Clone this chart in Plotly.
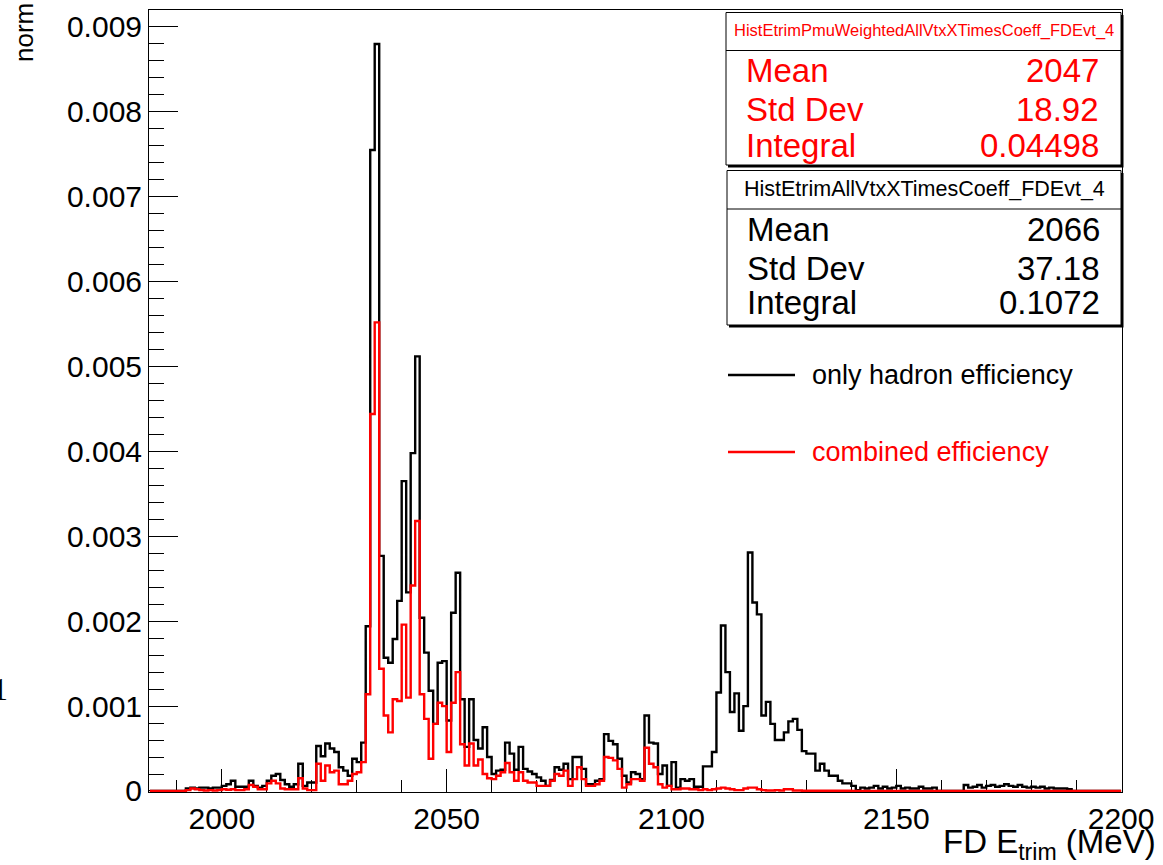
import numpy as np
import plotly.graph_objects as go

# ---------------- data (bin contents, in units of 1e-4) ----------------
bin_low = 1984.0      # MeV, left edge of first bin
bin_width = 1.0       # MeV

# HistEtrimAllVtxXTimesCoeff_FDEvt_4  ("only hadron efficiency")
hadron_only_x1e4 = [
    0, 0, 0, 0, 0, 0,                                              # 1984-1989
    0, 0, 0.3, 0.4, 0.3, 0.4, 0.4, 0.3, 0.4, 0.4,                   # 1990-1999
    0.6, 0.8, 1.2, 0.5, 0.5, 0.5, 1.2, 0.6, 0.4, 0.6,               # 2000-2009
    1.2, 1.8, 2.0, 1.3, 0.8, 0.5, 0.8, 3.2, 0.6, 1.0,               # 2010-2019
    1.0, 5.3, 4.1, 5.6, 5.0, 4.6, 2.8, 2.4, 1.8, 3.8,               # 2020-2029
    3.4, 5.7, 19.4, 75.5, 88.0, 27.7, 15.7, 15.1, 17.9, 22.4,       # 2030-2039
    36.5, 23.4, 39.8, 51.2, 20.4, 16.3, 11.8, 7.9, 15.1, 15.3,      # 2040-2049
    8.3, 21.0, 25.7, 10.8, 5.2, 10.8, 6.0, 5.0, 7.5, 4.0,           # 2050-2059
    2.0, 2.4, 2.5, 5.7, 4.4, 2.5, 5.2, 2.6, 2.3, 2.0,               # 2060-2069
    1.6, 1.2, 0.6, 1.3, 2.8, 2.5, 3.2, 1.4, 4.0, 4.0,               # 2070-2079
    2.6, 0.8, 0.8, 1.2, 1.4, 6.7, 5.9, 5.5, 3.8, 1.8,               # 2080-2089
    1.0, 2.2, 2.0, 1.4, 8.9, 5.7, 5.6, 2.0, 3.0, 0.6,               # 2090-2099
    3.4, 0.4, 1.4, 1.2, 1.4, 0.5, 0.5, 2.9, 2.9, 4.6,               # 2100-2109
    11.6, 19.5, 14.0, 9.3, 11.5, 7.1, 10.0, 28.1, 22.2, 20.8,       # 2110-2119
    8.9, 10.5, 7.9, 6.0, 6.0, 6.9, 8.2, 8.5, 7.2, 4.7,              # 2120-2129
    4.4, 4.4, 2.4, 3.2, 2.4, 1.8, 1.8, 1.2, 0.9, 0.9,               # 2130-2139
    0.6, 0.1, 0.4, 0.3, 0.4, 0.6, 0.3, 0.5, 0.3, 0.4,               # 2140-2149
    0.6, 0.3, 0.4, 0.3, 0.3, 0.5, 0.3, 0.3, 0.4, 0,                 # 2150-2159
    0, 0, 0, 0, 0, 0.7, 0.4, 0.5, 0.7, 0.4,                         # 2160-2169
    0.6, 0.7, 0.5, 0.6, 0.8, 0.6, 0.5, 0.7, 0.5, 0.4,               # 2170-2179
    0.5, 0.4, 0.5, 0.3, 0.4, 0.3, 0.3, 0.3, 0.2, 0,                 # 2180-2189
    0, 0, 0, 0, 0, 0, 0, 0, 0, 0,                                   # 2190-2199
]

# HistEtrimPmuWeightedAllVtxXTimesCoeff_FDEvt_4  ("combined efficiency")
combined_x1e4 = [
    0, 0, 0, 0, 0, 0,                                              # 1984-1989
    0, 0, 0.1, 0.3, 0.2, 0.1, 0.05, 0.1, 0.05, 0.1,                 # 1990-1999
    0.2, 0.15, 0.2, 0.1, 0.1, 0.2, 0.7, 0.5, 0.2, 0.2,              # 2000-2009
    0.9, 1.2, 0.9, 0.3, 0.2, 0.2, 0.2, 1.5, 0.3, 0.1,               # 2010-2019
    0.1, 3.2, 1.2, 3.0, 2.2, 2.4, 0.8, 0.8, 1.2, 2.0,               # 2020-2029
    2.2, 3.4, 11.4, 44.4, 55.2, 14.4, 8.9, 6.9, 10.8, 10.6,         # 2030-2039
    19.6, 11.0, 24.2, 31.8, 11.4, 8.5, 3.8, 7.9, 10.4, 10.0,        # 2040-2049
    4.6, 10.4, 14.0, 5.5, 3.0, 5.6, 3.0, 3.7, 2.0, 1.5,             # 2050-2059
    1.4, 1.8, 2.2, 3.3, 2.2, 1.2, 2.2, 1.2, 1.0, 1.0,               # 2060-2069
    0.6, 0.6, 0.6, 1.2, 2.0, 1.8, 2.4, 0.6, 1.4, 2.8,               # 2070-2079
    1.4, 0.6, 0.6, 0.8, 1.2, 4.0, 3.9, 3.6, 2.6, 0.4,               # 2080-2089
    0.8, 1.4, 1.4, 1.2, 5.1, 3.2, 2.8, 0.8, 0.4, 0.6,               # 2090-2099
    0.2, 0.2, 0.3, 0.3, 0.2, 0.2, 0.1, 0.2, 0.1, 0.2,               # 2100-2109
    0.3, 0.4, 0.3, 0.2, 0.1, 0.1, 0.3, 0.4, 0.4, 0.2,               # 2110-2119
    0.1, 0.05, 0.05, 0.1, 0.05, 0.2, 0.2, 0.05, 0.05, 0.02,         # 2120-2129
    0.02, 0.02, 0.02, 0.02, 0.02, 0.02, 0.02, 0.02, 0.02, 0.02,     # 2130-2139
    0, 0, 0, 0, 0, 0, 0, 0, 0, 0,                                   # 2140-2149
    0, 0, 0, 0, 0, 0, 0, 0, 0, 0,                                   # 2150-2159
    0, 0, 0, 0, 0, 0, 0, 0, 0, 0,                                   # 2160-2169
    0, 0, 0, 0, 0, 0, 0, 0, 0, 0,                                   # 2170-2179
    0, 0, 0, 0, 0, 0, 0, 0, 0, 0,                                   # 2180-2189
    0, 0, 0, 0, 0, 0, 0, 0, 0, 0,                                   # 2190-2199
]

x_tick_vals = [2000, 2050, 2100, 2150, 2200]
x_tick_text = ["2000", "2050", "2100", "2150", "2200"]
y_tick_vals = [0, 0.001, 0.002, 0.003, 0.004, 0.005, 0.006, 0.007, 0.008, 0.009]
y_tick_text = ["0", "0.001", "0.002", "0.003", "0.004", "0.005",
               "0.006", "0.007", "0.008", "0.009"]

stats_red = {"title": "HistEtrimPmuWeightedAllVtxXTimesCoeff_FDEvt_4",
             "rows": [("Mean", "2047"), ("Std Dev", "18.92"), ("Integral", "0.04498")]}
stats_black = {"title": "HistEtrimAllVtxXTimesCoeff_FDEvt_4",
               "rows": [("Mean", "2066"), ("Std Dev", "37.18"), ("Integral", "0.1072")]}
legend_entries = [("only hadron efficiency", "black"), ("combined efficiency", "red")]

# ---------------- figure ----------------
n_bins = len(hadron_only_x1e4)
assert n_bins == len(combined_x1e4) == 216
edges = bin_low + bin_width * np.arange(n_bins + 1)

def step_y(vals):
    v = np.asarray(vals, dtype=float) * 1e-4
    return np.append(v, v[-1])

FONT = "Liberation Sans, Arial, Helvetica, sans-serif"
L, T, W, H = 149, 10, 973, 782
FIG_W, FIG_H = 1163, 865

def px(x):
    return (x - L) / W

def py(y):
    return (T + H - y) / H

fig = go.Figure()
fig.add_trace(go.Scatter(x=edges, y=step_y(hadron_only_x1e4), mode="lines",
                         line=dict(color="black", width=2.4, shape="hv"),
                         name="only hadron efficiency", hoverinfo="skip"))
fig.add_trace(go.Scatter(x=edges, y=step_y(combined_x1e4), mode="lines",
                         line=dict(color="red", width=2.4, shape="hv"),
                         name="combined efficiency", hoverinfo="skip"))

shapes = []
annotations = []

def stats_box(x0, y0, x1, y1, ysep, color, st, title_size, title_y, row_ys, xl, xr):
    # shadow
    shapes.append(dict(type="rect", xref="paper", yref="paper",
                       x0=px(x0 + 2), x1=px(x1 + 2.5), y0=py(y1 + 2.5), y1=py(y0 + 2.5),
                       fillcolor="black", line=dict(width=0), layer="above"))
    shapes.append(dict(type="rect", xref="paper", yref="paper",
                       x0=px(x0), x1=px(x1), y0=py(y1), y1=py(y0),
                       fillcolor="white", line=dict(color="black", width=1), layer="above"))
    shapes.append(dict(type="line", xref="paper", yref="paper",
                       x0=px(x0), x1=px(x1), y0=py(ysep), y1=py(ysep),
                       line=dict(color="black", width=1), layer="above"))
    annotations.append(dict(text=st["title"], xref="paper", yref="paper",
                            x=px((x0 + x1) / 2), y=py(title_y), xanchor="center", yanchor="middle",
                            showarrow=False, font=dict(family=FONT, size=title_size, color=color)))
    for (lab, val), yy in zip(st["rows"], row_ys):
        annotations.append(dict(text=lab, xref="paper", yref="paper", x=px(xl), y=py(yy),
                                xanchor="left", yanchor="middle", showarrow=False,
                                font=dict(family=FONT, size=33, color=color)))
        annotations.append(dict(text=val, xref="paper", yref="paper", x=px(xr), y=py(yy),
                                xanchor="right", yanchor="middle", showarrow=False,
                                font=dict(family=FONT, size=33, color=color)))

stats_box(726, 12.5, 1121, 165, 50.5, "red", stats_red, 16.5, 31, [70, 110, 145], 744, 1101)
stats_box(727, 170.5, 1121, 325, 209, "black", stats_black, 21.5, 189, [229, 268, 303], 745, 1102)

for (lab, col), yy in zip(legend_entries, [375, 452]):
    shapes.append(dict(type="line", xref="paper", yref="paper",
                       x0=px(728), x1=px(795), y0=py(yy), y1=py(yy),
                       line=dict(color=col, width=2.4), layer="above"))
    annotations.append(dict(text=lab, xref="paper", yref="paper", x=px(810), y=py(yy),
                            xanchor="left", yanchor="middle", showarrow=False,
                            font=dict(family=FONT, size=27, color=col)))

# axis titles (ROOT style: aligned at axis end)
annotations.append(dict(text="FD E<sub>trim</sub> (MeV)", xref="paper", yref="paper",
                        x=px(1158), y=py(844), xanchor="right", yanchor="middle",
                        showarrow=False, font=dict(family=FONT, size=33, color="black")))
annotations.append(dict(text="norm", xref="paper", yref="paper", textangle=-90,
                        x=px(24), y=py(33), xanchor="center", yanchor="middle",
                        showarrow=False, font=dict(family=FONT, size=26, color="black")))
# stray glyph at the left border of the original image
annotations.append(dict(text="1", xref="paper", yref="paper",
                        x=px(10), y=py(689), xanchor="right", yanchor="middle",
                        showarrow=False, font=dict(family="Liberation Serif, serif", size=32, color="black")))

fig.update_layout(
    width=FIG_W, height=FIG_H,
    margin=dict(l=L, r=FIG_W - L - W, t=T, b=FIG_H - T - H, pad=0),
    paper_bgcolor="white", plot_bgcolor="white",
    showlegend=False,
    shapes=shapes, annotations=annotations,
    font=dict(family=FONT, size=30, color="black"),
)
fig.update_xaxes(
    range=[1983.8, 2200.2], tickmode="array", tickvals=x_tick_vals, ticktext=x_tick_text,
    ticks="inside", ticklen=23, tickwidth=1, tickcolor="black",
    minor=dict(tickmode="linear", tick0=1990, dtick=10, ticks="inside", ticklen=12,
               tickwidth=1, tickcolor="black", showgrid=False),
    showline=True, mirror=True, linecolor="black", linewidth=1,
    showgrid=False, zeroline=False, layer="below traces",
    tickfont=dict(family=FONT, size=30, color="black"),
)
fig.update_yaxes(
    range=[-1.2e-5, 0.0092], tickmode="array", tickvals=y_tick_vals, ticktext=y_tick_text,
    ticks="inside", ticklen=29, tickwidth=1, tickcolor="black",
    minor=dict(tickmode="linear", tick0=0, dtick=0.0002, ticks="inside", ticklen=15,
               tickwidth=1, tickcolor="black", showgrid=False),
    showline=True, mirror=True, linecolor="black", linewidth=1,
    showgrid=False, zeroline=False, layer="below traces",
    tickfont=dict(family=FONT, size=30, color="black"),
)

fig.write_html("out.html")
